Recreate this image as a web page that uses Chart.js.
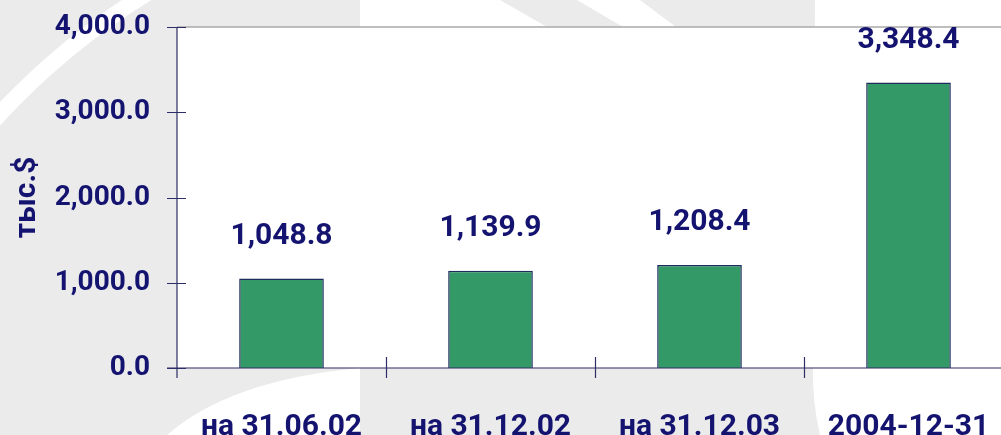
<!DOCTYPE html>
<html>
<head>
<meta charset="utf-8">
<script src="https://cdn.jsdelivr.net/npm/chart.js@4/dist/chart.umd.min.js"></script>
<style>
    html, body { margin: 0; padding: 0; background: #ebebeb; overflow: hidden; }
    #wrap { width: 1001px; height: 435px; overflow: hidden; }
    canvas { display: block; }
</style>
</head>
<body>
<div id="wrap"><canvas id="chart" width="1013" height="435"></canvas></div>
<script>
var categories = ['на 31.06.02', 'на 31.12.02', 'на 31.12.03', '2004-12-31'];
var values = [1048.8, 1139.9, 1208.4, 3348.4];
var yTicks = [0, 1000, 2000, 3000, 4000];
var yTitle = 'тыс.$';

var textColor = '#141470',
    axisColor = '#2e2e66',
    barColor = '#339966',
    barBorder = '#1c2d5c';

function fmt(v) {
    return v.toLocaleString('en-US', { minimumFractionDigits: 1, maximumFractionDigits: 1 });
}

function noPadding(scale) {
    scale.paddingTop = 0;
    scale.paddingBottom = 0;
    scale.paddingLeft = 0;
    scale.paddingRight = 0;
}

// faint logo in the background, plus the white plot area
var backdrop = {
    id: 'backdrop',
    beforeDraw: function(chart) {
        var ctx = chart.ctx, a = chart.chartArea,
            w = chart.width, h = chart.height;
        ctx.save();
        ctx.fillStyle = '#ebebeb';
        ctx.fillRect(0, 0, w, h);
        ctx.fillStyle = '#ffffff';
        ctx.strokeStyle = '#ffffff';
        // left ring
        ctx.lineWidth = 16;
        ctx.beginPath();
        ctx.arc(520, 600, 712, 0, Math.PI * 2);
        ctx.stroke();
        // top stripes
        ctx.beginPath();
        ctx.moveTo(360, 0); ctx.lineTo(500, 0); ctx.lineTo(547, a.top); ctx.lineTo(360, a.top);
        ctx.fill();
        ctx.beginPath();
        ctx.moveTo(577, 0); ctx.lineTo(640, 0); ctx.lineTo(676, a.top); ctx.lineTo(623, a.top);
        ctx.fill();
        // right block
        ctx.beginPath();
        ctx.moveTo(815, 0); ctx.lineTo(w, 0); ctx.lineTo(w, h); ctx.lineTo(820, h);
        ctx.quadraticCurveTo(812, 400, 813, a.bottom);
        ctx.lineTo(815, 0);
        ctx.fill();
        // bottom patch
        ctx.beginPath();
        ctx.moveTo(360, a.bottom); ctx.lineTo(360, h); ctx.lineTo(167, h);
        ctx.quadraticCurveTo(230, 380, 360, a.bottom);
        ctx.fill();
        // plot area
        ctx.fillRect(a.left, a.top, a.right - a.left, a.bottom - a.top);
        ctx.strokeStyle = '#a8a8a8';
        ctx.lineWidth = 1.5;
        ctx.beginPath();
        ctx.moveTo(a.left, a.top);
        ctx.lineTo(a.right, a.top);
        ctx.stroke();
        ctx.restore();
    }
};

// tick marks crossing the axes
var crossTicks = {
    id: 'crossTicks',
    afterDatasetsDraw: function(chart) {
        var ctx = chart.ctx, xs = chart.scales.x, ys = chart.scales.y,
            a = chart.chartArea;
        ctx.save();
        ctx.strokeStyle = axisColor;
        ctx.lineWidth = 1.2;
        ctx.beginPath();
        ctx.moveTo(a.left, a.top); ctx.lineTo(a.left, a.bottom + 10);
        ctx.moveTo(a.left - 10, a.bottom); ctx.lineTo(a.right, a.bottom);
        yTicks.forEach(function(t) {
            var y = Math.round(ys.getPixelForValue(t)) + 0.5;
            ctx.moveTo(a.left - 10, y); ctx.lineTo(a.left + 9, y);
        });
        var half = (xs.getPixelForValue(1) - xs.getPixelForValue(0)) / 2;
        for (var i = 1; i < categories.length; i++) {
            var x = Math.round(xs.getPixelForValue(i) - half) + 0.5;
            ctx.moveTo(x, a.bottom - 11); ctx.lineTo(x, a.bottom + 10);
        }
        ctx.stroke();
        ctx.restore();
    }
};

// value labels above the bars
var barLabels = {
    id: 'barLabels',
    afterDatasetsDraw: function(chart) {
        var ctx = chart.ctx,
            meta = chart.getDatasetMeta(0);
        ctx.save();
        ctx.fillStyle = textColor;
        ctx.font = 'bold 30px Roboto';
        ctx.textAlign = 'center';
        ctx.textBaseline = 'middle';
        meta.data.forEach(function(bar, i) {
            ctx.fillText(fmt(values[i]), bar.x, bar.y - 42);
        });
        ctx.restore();
    }
};

Chart.defaults.font.family = 'Roboto';

new Chart(document.getElementById('chart').getContext('2d'), {
    type: 'bar',
    data: {
        labels: categories,
        datasets: [
            {
                data: values,
                backgroundColor: barColor,
                borderColor: barBorder,
                borderWidth: 1.5,
                categoryPercentage: 1,
                barPercentage: 0.405
            }
        ]
    },
    options: {
        responsive: false,
        animation: false,
        layout: { padding: { top: 27, right: 0, left: 0, bottom: 0 } },
        plugins: {
            legend: { display: false },
            tooltip: { enabled: false }
        },
        scales: {
            x: {
                grid: { display: false, drawTicks: false },
                border: { display: false },
                ticks: {
                    color: textColor,
                    font: { size: 30, weight: 'bold' },
                    padding: 41,
                    maxRotation: 0,
                    autoSkip: false
                },
                afterFit: function(scale) {
                    scale.height = 67;
                    noPadding(scale);
                }
            },
            y: {
                min: 0,
                max: 4000,
                grid: { display: false, drawTicks: false },
                border: { display: false },
                afterBuildTicks: function(scale) {
                    scale.ticks = yTicks.map(function(v) { return { value: v }; });
                },
                ticks: {
                    color: textColor,
                    font: { size: 28, weight: 'bold' },
                    padding: 27,
                    callback: function(v) { return fmt(v); }
                },
                title: {
                    display: true,
                    text: yTitle,
                    color: textColor,
                    font: { size: 30, weight: 'bold' },
                    padding: { top: 9, bottom: 0 }
                },
                afterFit: function(scale) {
                    scale.width = 177;
                    noPadding(scale);
                }
            }
        }
    },
    plugins: [backdrop, crossTicks, barLabels]
});
</script>
</body>
</html>
